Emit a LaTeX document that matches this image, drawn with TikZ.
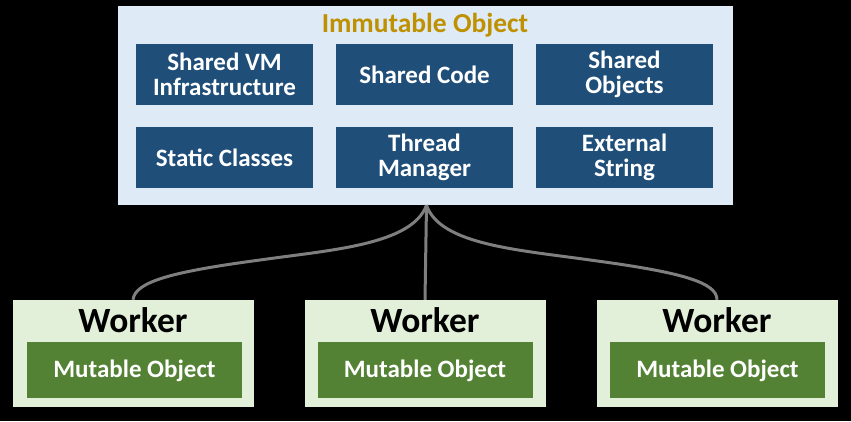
\documentclass[tikz,border=0pt]{standalone}
\usepackage{fontspec}
\setmainfont{Carlito}
\definecolor{panelblue}{HTML}{DEEBF7}
\definecolor{darkblue}{HTML}{1F4E79}
\definecolor{gold}{HTML}{BF9000}
\definecolor{panelgreen}{HTML}{E2F0D9}
\definecolor{darkgreen}{HTML}{548235}
\definecolor{linkgray}{HTML}{7F7F7F}
\begin{document}
\begin{tikzpicture}[x=1pt,y=-1pt,
  bluebox/.style={fill=darkblue, text=white, font=\bfseries\fontsize{25}{25}\selectfont, align=center, inner sep=0pt, minimum width=177pt, minimum height=61pt},
  workerbox/.style={fill=panelgreen, minimum width=241pt, minimum height=107pt, inner sep=0pt},
  greenbox/.style={fill=darkgreen, text=white, font=\bfseries\fontsize{25}{25}\selectfont, inner sep=0pt, minimum width=215pt, minimum height=56pt, text depth=2pt},
  workerlabel/.style={font=\bfseries\fontsize{35.5}{36}\selectfont, text=black},
  link/.style={draw=linkgray, line width=3pt}]
\fill[black] (0,0) rectangle (851,421);
\useasboundingbox (0,0) rectangle (851,421);
% panel
\node[fill=panelblue, minimum width=615pt, minimum height=199pt, inner sep=0pt] (panel) at (425.5,105.5) {};
\node[text=gold, font=\bfseries\fontsize{27.5}{28}\selectfont] (title) at (425,25) {Immutable Object};
\node[bluebox] (b1) at (224.5,74.5) {Shared VM\\Infrastructure};
\node[bluebox] (b2) at (424.5,74.5) {Shared Code};
\node[bluebox] (b3) at (624.5,74.5) {Shared\\Objects};
\node[bluebox] (b4) at (224.5,157.5) {Static Classes};
\node[bluebox] (b5) at (424.5,157.5) {Thread\\Manager};
\node[bluebox] (b6) at (624.5,157.5) {External\\String};
% workers
\node[workerbox] (w1) at (133,353.5) {};
\node[workerbox] (w2) at (425,353.5) {};
\node[workerbox] (w3) at (717,353.5) {};
\node[workerlabel] (wl1) at (133,320) {Worker};
\node[workerlabel] (wl2) at (425,320) {Worker};
\node[workerlabel] (wl3) at (717,320) {Worker};
\node[greenbox] (g1) at (134.5,370) {Mutable Object};
\node[greenbox] (g2) at (425,370) {Mutable Object};
\node[greenbox] (g3) at (717.5,370) {Mutable Object};
% connectors
\coordinate (hub) at ([xshift=1pt]panel.south);
\draw[link] (hub) .. controls (412,245) and (330,250) .. (260,260) .. controls (170,272) and (135,282) .. (w1.north);
\draw[link] (hub) -- (w2.north);
\draw[link] (hub) .. controls (440,245) and (520,250) .. (590,260) .. controls (680,272) and (717,282) .. (w3.north);
\end{tikzpicture}
\end{document}
